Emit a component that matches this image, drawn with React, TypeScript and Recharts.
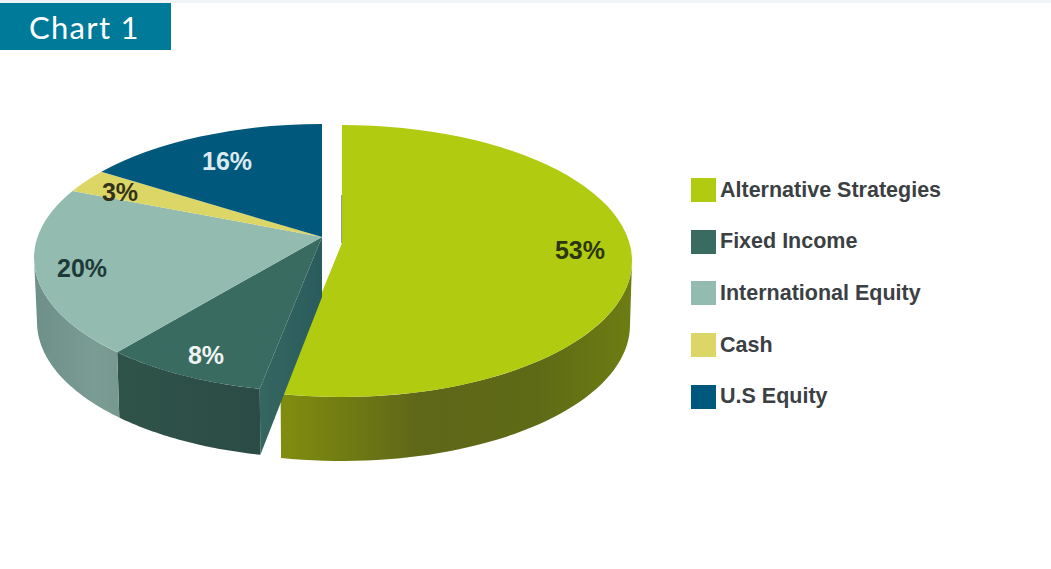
import React from "react";
import { PieChart, Pie, Legend } from "recharts";

// Portfolio allocation, clockwise from twelve o'clock
const categories = ["Alternative Strategies", "Fixed Income", "International Equity", "Cash", "U.S Equity"];
const shares = [53, 8, 20, 3, 16];
const faceColors = ["#b1cb10", "#3a6b61", "#93bbb0", "#dcd666", "#00597c"];
const labelColors = ["#2b3510", "#eef4f2", "#1d3a38", "#33331c", "#dcebf1"];
const labelReach = [0.824, 0.946, 0.86, 0.787, 0.684];
const labelDrop = [-4, 3, 2, 3, 4];

const allocation = categories.map((name, i) => ({ name, value: shares[i] }));

type Disc = {
  cx: number; cy: number; rx: number; ry: number; apexY: number;
  bottomCy: number; bottomRx: number; bottomRy: number;
};

// The large slice is pulled to the right of the rest of the disc.
const pulledDisc: Disc = { cx: 342, cy: 261, rx: 290, ry: 136, apexY: 243, bottomCy: 325, bottomRx: 288, bottomRy: 136 };
const restDisc: Disc = { cx: 322, cy: 258, rx: 288, ry: 134, apexY: 237, bottomCy: 322, bottomRx: 285, bottomRy: 136 };
const discFor = (index: number) => (index === 0 ? pulledDisc : restDisc);

const RAD = Math.PI / 180;

// Cast a ray from the slice apex (which sits above the ellipse centre, for
// perspective) and return where it meets the rim, in unit-circle coordinates.
function rimHit(d: Disc, clockwiseDeg: number) {
  const dx = Math.sin(clockwiseDeg * RAD);
  const dy = Math.cos(clockwiseDeg * RAD);
  const a = (d.cy - d.apexY) / d.ry;
  const s = -a * dy + Math.sqrt(a * a * dy * dy + 1 - a * a);
  return { u: dx * s, v: a + dy * s };
}

const toScreen = (d: Disc, u: number, v: number) => ({ x: d.cx + d.rx * u, y: d.cy - d.ry * v });

function rimParam(d: Disc, clockwiseDeg: number) {
  const { u, v } = rimHit(d, clockwiseDeg);
  const deg = Math.atan2(u, v) / RAD;
  return deg < -0.001 ? deg + 360 : deg;
}

function sideWall(d: Disc, from: number, to: number) {
  const lo = Math.max(from, 90);
  const hi = Math.min(to, 270);
  if (hi <= lo) return null;
  const top: string[] = [];
  const bottom: string[] = [];
  const steps = 48;
  for (let i = 0; i <= steps; i++) {
    const p = (lo + ((hi - lo) * i) / steps) * RAD;
    top.push(`${d.cx + d.rx * Math.sin(p)},${d.cy - d.ry * Math.cos(p)}`);
    bottom.unshift(`${d.cx + d.bottomRx * Math.sin(p)},${d.bottomCy - d.bottomRy * Math.cos(p)}`);
  }
  return `M${top.join("L")}L${bottom.join("L")}Z`;
}

function SliceShape(props: any) {
  const { outerRadius, startAngle, endAngle, name } = props;
  const index = categories.indexOf(name);
  const base = discFor(index);
  // Horizontal radius comes from the pie; the vertical ratio stays fixed per disc.
  const scale = outerRadius / 289;
  const d: Disc = { ...base, rx: base.rx * scale, ry: base.ry * scale };
  const t0 = 90 - startAngle;
  const t1 = 90 - endAngle;
  const a = rimHit(d, t0);
  const b = rimHit(d, t1);
  const pa = toScreen(d, a.u, a.v);
  const pb = toScreen(d, b.u, b.v);
  const phi0 = rimParam(d, t0);
  let phi1 = rimParam(d, t1);
  if (phi1 < phi0) phi1 += 360;
  const large = phi1 - phi0 > 180 ? 1 : 0;
  const wall = sideWall(d, phi0, phi1);
  const face = `M${d.cx},${d.apexY}L${pa.x},${pa.y}A${d.rx},${d.ry} 0 ${large} 1 ${pb.x},${pb.y}Z`;
  const wallIds = ["wallAlt", "wallFixed", "wallIntl"];
  const cornerX = d.cx + d.bottomRx * Math.sin(phi0 * RAD);
  const cornerY = d.bottomCy - d.bottomRy * Math.cos(phi0 * RAD);
  return (
    <g>
      <defs>
        <linearGradient id="wallAlt" gradientUnits="userSpaceOnUse" x1="287" y1="0" x2="632" y2="0">
          <stop offset="0" stopColor="#7f8c0f" />
          <stop offset="0.38" stopColor="#5f6718" />
          <stop offset="0.72" stopColor="#5e6a16" />
          <stop offset="1" stopColor="#6d7d12" />
        </linearGradient>
        <linearGradient id="wallFixed" gradientUnits="userSpaceOnUse" x1="120" y1="0" x2="260" y2="0">
          <stop offset="0" stopColor="#2f5349" />
          <stop offset="1" stopColor="#2c4b46" />
        </linearGradient>
        <linearGradient id="wallIntl" gradientUnits="userSpaceOnUse" x1="36" y1="0" x2="120" y2="0">
          <stop offset="0" stopColor="#6e9089" />
          <stop offset="0.7" stopColor="#7a9c94" />
          <stop offset="1" stopColor="#76988e" />
        </linearGradient>
        <linearGradient id="cutFixed" gradientUnits="userSpaceOnUse" x1="260" y1="0" x2="321" y2="0">
          <stop offset="0" stopColor="#356660" />
          <stop offset="1" stopColor="#2a5c5e" />
        </linearGradient>
      </defs>
      {wall && index < wallIds.length && <path d={wall} fill={`url(#${wallIds[index]})`} />}
      {index === 0 && (
        <path d={`M${d.cx},${d.apexY}L${d.cx},${d.apexY - 48}`} stroke="#2e3a10" strokeWidth={1} fill="none" />
      )}
      {index === 1 && (
        <path
          d={`M${d.cx},${d.apexY}L${pa.x},${pa.y}L${cornerX},${cornerY}L${d.cx},${d.apexY + 60}Z`}
          fill="url(#cutFixed)"
        />
      )}
      <path d={face} fill={faceColors[index]} />
    </g>
  );
}

function sliceLabel(props: any) {
  const { midAngle, name, value } = props;
  const index = categories.indexOf(name);
  const d = discFor(index);
  const t = 90 - midAngle;
  const reach = labelReach[index];
  const x = d.cx + d.rx * Math.sin(t * RAD) * reach;
  const y = d.apexY - d.ry * Math.cos(t * RAD) * reach + labelDrop[index];
  return (
    <text
      key={name}
      x={x}
      y={y}
      textAnchor="middle"
      dominantBaseline="central"
      fontFamily="'Liberation Sans', Arial, sans-serif"
      fontWeight={700}
      fontSize={25}
      fill={labelColors[index]}
    >
      {`${value}%`}
    </text>
  );
}

function KeyList({ payload }: any) {
  return (
    <div style={{ fontFamily: "'Liberation Sans', Arial, sans-serif", fontWeight: 700, fontSize: 21.5, color: "#3b4043" }}>
      {(payload ?? []).map((entry: any, i: number) => (
        <div key={entry.value} style={{ display: "flex", alignItems: "center", height: 24, marginBottom: i < 4 ? 27.7 : 0 }}>
          <span style={{ display: "block", width: 25, height: 24, background: faceColors[categories.indexOf(entry.value)], marginRight: 4 }} />
          <span style={{ whiteSpace: "nowrap" }}>{entry.value}</span>
        </div>
      ))}
    </div>
  );
}

export default function App() {
  return (
    <div style={{ position: "absolute", left: 0, top: 0, width: 1051, height: 569, background: "#fff", overflow: "hidden" }}>
      <div style={{ position: "absolute", left: 0, top: 0, width: 1051, height: 3, background: "#f1f4f6" }} />
      <div
        style={{
          position: "absolute", left: 0, top: 3, width: 171, height: 47, background: "#007a99", color: "#fff",
          fontFamily: "Lato, sans-serif", fontSize: 31, letterSpacing: 1.3, lineHeight: "49px", paddingLeft: 29, boxSizing: "border-box",
        }}
      >
        Chart 1
      </div>
      <PieChart width={1051} height={569} margin={{ top: 0, right: 0, bottom: 0, left: 0 }}>
        <Pie
          data={allocation}
          dataKey="value"
          nameKey="name"
          cx={332}
          cy={240}
          outerRadius={289}
          startAngle={90}
          endAngle={-270}
          stroke="none"
          shape={SliceShape}
          label={sliceLabel}
          labelLine={false}
          isAnimationActive={false}
        />
        <Legend
          content={KeyList}
          itemSorter={null}
          layout="vertical"
          wrapperStyle={{ position: "absolute", left: 691, top: 178, width: 300, bottom: "auto", right: "auto" }}
        />
      </PieChart>
    </div>
  );
}
